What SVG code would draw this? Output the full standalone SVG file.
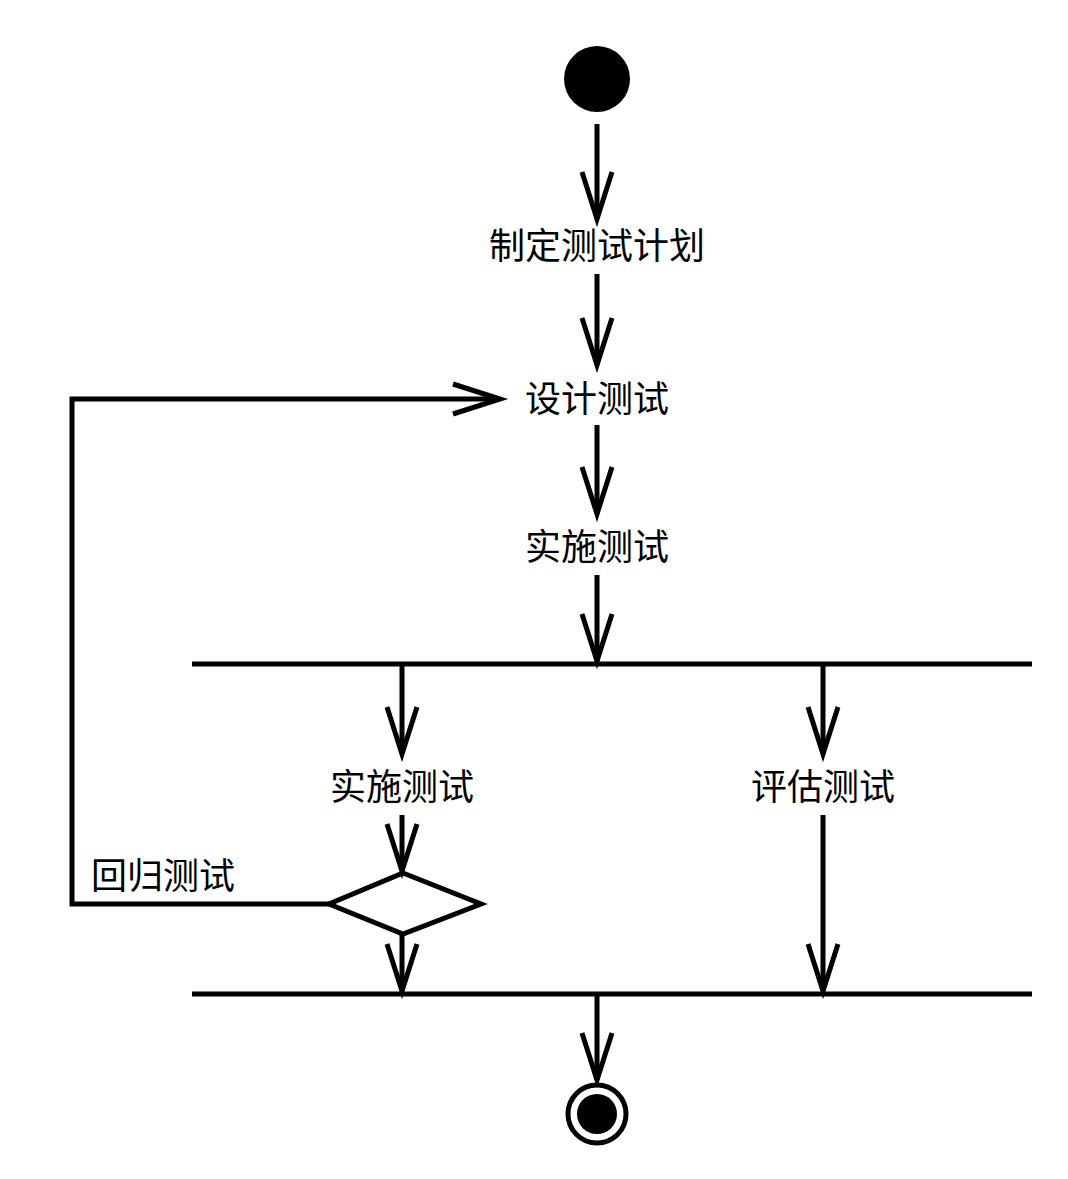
<svg xmlns="http://www.w3.org/2000/svg" width="1068" height="1179" viewBox="0 0 1068 1179">
<style>
.t{font-family:"Noto Sans CJK SC","Noto Sans",sans-serif;font-size:36px;fill:#000}
.c{text-anchor:middle}
.ln{fill:none;stroke:#000;stroke-width:5;marker-end:url(#ah)}
.pl{fill:none;stroke:#000;stroke-width:5}
.bar{stroke:#000;stroke-width:5}
</style>
<defs>
<marker id="ah" markerUnits="userSpaceOnUse" markerWidth="60" markerHeight="40" viewBox="-52 -20 56 40" refX="0" refY="0" orient="auto" overflow="visible">
<path d="M -47 -15 L 0 0 L -47 15" fill="none" stroke="#000" stroke-width="5"/>
</marker>
</defs>
<rect width="1068" height="1179" fill="#fff"/>
<g id="start"><circle cx="597" cy="79" r="33" fill="#000"/></g>
<g id="plan"><text class="t c" x="597" y="259">制定测试计划</text></g>
<g id="design"><text class="t c" x="597" y="412">设计测试</text></g>
<g id="impl1"><text class="t c" x="597" y="560">实施测试</text></g>
<g id="fork"><line class="bar" x1="192" y1="664" x2="1032" y2="664"/></g>
<g id="impl2"><text class="t c" x="402" y="800">实施测试</text></g>
<g id="eval"><text class="t c" x="823" y="800">评估测试</text></g>
<g id="decision"><polygon points="403,873 481,904 403,934 329,904" fill="#fff" stroke="#000" stroke-width="5"/></g>
<g id="join"><line class="bar" x1="192" y1="994" x2="1032" y2="994"/></g>
<g id="end"><circle cx="597" cy="1114" r="29" fill="#fff" stroke="#000" stroke-width="5"/><circle cx="597" cy="1114" r="20" fill="#000"/></g>
<g id="connectors">
<line class="ln" x1="597" y1="124" x2="597" y2="219"/>
<line class="ln" x1="597" y1="274" x2="597" y2="365"/>
<line class="ln" x1="597" y1="425" x2="597" y2="514"/>
<line class="ln" x1="597" y1="575" x2="597" y2="661"/>
<line class="ln" x1="402" y1="666" x2="402" y2="754"/>
<line class="ln" x1="823" y1="666" x2="823" y2="754"/>
<line class="ln" x1="402" y1="815" x2="402" y2="871"/>
<line class="ln" x1="402" y1="934" x2="402" y2="991"/>
<line class="ln" x1="823" y1="815" x2="823" y2="991"/>
<line class="ln" x1="597" y1="996" x2="597" y2="1080"/>
<polyline class="ln" points="329,904 72,904 72,399 500,399"/>
<text class="t" x="91" y="889">回归测试</text>
</g>
</svg>
